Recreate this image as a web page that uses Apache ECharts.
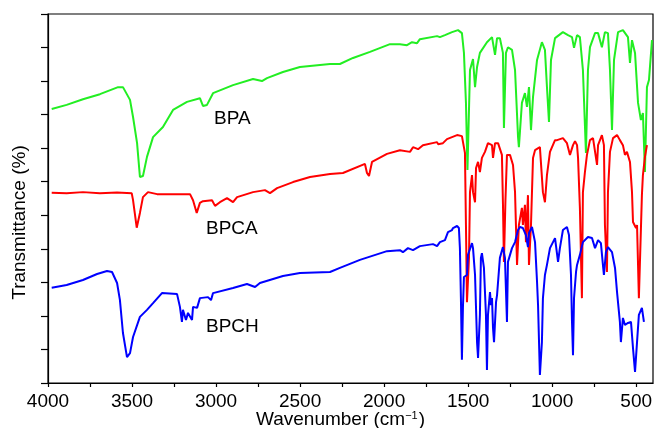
<!DOCTYPE html>
<html>
<head>
<meta charset="utf-8">
<script src="https://cdn.jsdelivr.net/npm/echarts@6/dist/echarts.min.js"></script>
<style>html,body{margin:0;padding:0;background:#fff}#c{width:655px;height:428px}</style>
</head>
<body>
<div id="c"></div>
<script>
// Wavenumber (cm-1) and transmittance (arbitrary offset %, axis 0-110)
var bpaW = [3978,3889,3792,3691,3583,3554,3512,3494,3470,3453,3435,3411,3375,3316,3256,3173,3096,3078,3054,3018,2899,2780,2727,2697,2602,2501,2322,2263,2185,2084,1965,1906,1864,1834,1804,1787,1685,1668,1638,1596,1560,1537,1525,1513,1504,1489,1471,1459,1447,1430,1388,1358,1340,1328,1311,1293,1287,1275,1263,1239,1221,1203,1198,1180,1162,1150,1138,1126,1114,1090,1061,1043,1031,1019,1007,983,936,906,882,870,852,835,817,799,787,775,745,727,704,686,668,656,644,632,608,579,549,537,525,507,489,472,460,448,436,424,406];
var bpaT = [81.7,82.9,84.6,86.1,88.2,88.2,84.4,79.3,71.5,61.4,61.7,67.4,73.3,76.3,81.4,83.8,84.9,82.6,82.9,86.4,88.8,90.6,90.0,90.9,92.7,94.2,95.1,95.1,96.9,98.7,101.0,101.0,100.7,101.6,101.3,102.5,103.4,103.1,103.7,104.6,105.2,104.3,98.4,83.5,63.5,93.3,96.6,88.2,94.2,98.4,101.6,103.1,97.8,102.8,102.8,98.4,76.0,98.4,100.1,99.3,93.3,73.3,70.3,83.5,86.4,82.3,88.2,75.4,85.2,96.3,101.6,99.3,88.2,77.8,96.3,102.8,104.6,103.7,103.1,99.9,103.7,103.1,93.3,68.6,93.3,100.1,104.3,104.3,100.1,104.6,104.3,93.3,75.4,96.3,104.6,105.2,103.1,95.4,102.2,98.4,83.5,78.4,80.5,62.9,88.2,90.3,102.2];

var bpcaW = [3978,3889,3792,3691,3589,3502,3494,3472,3453,3435,3405,3351,3155,3137,3115,3096,3078,3024,3006,2977,2935,2899,2875,2780,2709,2679,2637,2542,2441,2322,2245,2114,2102,2090,2072,1983,1906,1846,1828,1798,1769,1685,1679,1650,1626,1566,1537,1519,1513,1507,1495,1489,1477,1471,1459,1453,1441,1430,1418,1400,1382,1358,1352,1340,1322,1299,1293,1287,1278,1269,1251,1233,1221,1209,1198,1180,1174,1162,1156,1144,1138,1126,1114,1102,1073,1055,1043,1031,1013,983,971,936,912,894,876,864,852,846,835,823,817,805,793,775,757,733,727,704,692,686,674,668,656,638,614,597,579,567,555,537,525,519,501,495,484,466,460,448,436];
var bpcaT = [56.7,56.6,56.9,56.6,56.8,56.6,54.5,46.3,50.7,55.4,56.9,56.3,56.3,54.5,50.7,53.7,54.2,54.5,52.8,53.9,55.1,53.9,55.4,56.9,57.5,56.6,58.1,59.9,61.4,62.3,62.6,65.3,62.6,61.7,65.9,68.3,69.4,68.9,70.3,69.7,70.9,71.8,71.2,71.5,72.7,73.9,73.6,68.6,47.1,24.1,37.3,56.9,62.0,56.9,53.9,64.1,65.9,62.9,67.1,68.9,71.5,70.9,67.1,71.5,71.5,68.0,53.9,36.1,54.5,68.0,68.0,65.0,56.9,35.2,47.1,52.2,47.1,53.1,42.0,56.0,35.2,47.1,67.1,69.4,70.3,56.9,53.9,62.0,68.9,72.4,72.4,73.0,71.5,68.0,70.9,72.1,70.9,67.1,52.2,25.3,56.9,62.9,68.0,72.4,73.0,65.0,70.9,73.9,70.9,47.1,33.1,56.9,68.9,73.0,73.9,72.4,70.9,68.0,68.9,65.9,56.9,48.0,46.2,47.1,25.3,56.0,62.0,67.4,70.9];

var bpchW = [3978,3889,3792,3708,3649,3619,3589,3572,3554,3530,3512,3494,3453,3411,3375,3322,3232,3215,3203,3197,3179,3167,3143,3137,3113,3096,3048,3030,3018,2899,2816,2768,2739,2602,2501,2322,2263,2144,1983,1906,1888,1858,1828,1787,1709,1685,1668,1638,1620,1596,1590,1566,1555,1549,1543,1537,1531,1525,1507,1501,1477,1471,1459,1447,1441,1430,1424,1418,1406,1394,1388,1382,1370,1364,1358,1352,1346,1334,1328,1311,1293,1281,1269,1263,1239,1221,1203,1192,1174,1156,1144,1138,1120,1102,1090,1084,1073,1061,1055,1043,1031,1013,983,965,954,936,912,900,888,882,876,870,858,852,835,817,787,763,745,727,710,698,692,680,668,644,626,614,597,591,579,567,549,531,519,507,495,484,466,454];
var bpchT = [28.4,29.2,30.7,32.5,33.4,33.1,29.8,24.7,14.9,7.7,8.9,13.7,19.7,21.8,23.8,26.8,26.5,22.7,18.2,21.8,18.8,20.9,18.8,22.7,22.4,25.3,25.6,24.7,26.8,28.3,29.5,28.6,29.8,31.9,32.8,33.1,34.3,36.7,39.3,39.6,39.0,40.2,39.6,40.8,41.4,40.8,42.0,42.6,45.0,45.6,46.2,46.8,46.2,40.2,25.3,6.9,22.4,31.6,32.2,38.2,41.7,40.2,32.2,12.2,7.5,20.3,37.3,38.7,34.3,20.3,3.9,20.3,27.1,23.2,25.3,16.4,12.2,24.1,26.2,37.3,40.5,37.3,18.2,36.1,40.2,42.0,45.6,46.5,46.2,44.1,40.5,44.7,46.5,42.0,30.1,23.2,2.4,12.2,25.3,32.2,35.2,40.2,43.2,36.1,40.2,45.6,46.5,44.1,32.2,18.2,8.3,25.3,33.1,35.2,38.2,42.0,43.5,43.2,40.2,42.6,41.7,35.2,32.2,39.0,40.5,39.0,34.3,27.1,18.2,12.2,19.4,17.3,17.9,18.2,10.4,3.3,12.2,20.3,22.4,18.2];

var tickValues = [500,750,1000,1250,1500,1750,2000,2250,2500,2750,3000,3250,3500,3750,4000];
var labelValues = [500,1000,1500,2000,2500,3000,3500,4000];
var seriesNames = ['BPA','BPCA','BPCH'];

function zip(a,b){return a.map(function(v,i){return [v,b[i]];});}

var FONT = '"Liberation Sans", Arial, Helvetica, sans-serif';
var chart = echarts.init(document.getElementById('c'), null, {renderer:'canvas'});
chart.setOption({
  animation:false,
  backgroundColor:'#fff',
  grid:{left:48, right:2, top:14, bottom:45, outerBoundsMode:'none', containLabel:false,
        show:true, borderColor:'#000', borderWidth:1.2, backgroundColor:'transparent'},
  xAxis:{
    type:'value', inverse:true, min:400, max:4000,
    name:'Wavenumber (cm{sup|\u22121})',
    nameLocation:'middle', nameGap:27, nameMoveOverlap:false,
    nameTextStyle:{fontFamily:FONT, fontSize:19, lineHeight:20, color:'#000', padding:[0,20,0,0],
      rich:{sup:{fontFamily:FONT, fontSize:11, lineHeight:20, color:'#000', verticalAlign:'top', padding:[0,1,6,0]}}},
    axisLine:{show:true, onZero:false, lineStyle:{color:'#000', width:1.2}},
    axisTick:{show:true, inside:false, length:4, customValues:tickValues, lineStyle:{color:'#000', width:1.2}},
    axisLabel:{show:true, customValues:labelValues, margin:9, fontFamily:FONT, fontSize:19, color:'#000',
      formatter:function(v){return String(v);}},
    splitLine:{show:false}
  },
  yAxis:{
    type:'value', min:0, max:110, interval:10,
    name:'Transmittance (%)', nameLocation:'middle', nameGap:19, nameMoveOverlap:false,
    nameTextStyle:{fontFamily:FONT, fontSize:19, color:'#000', padding:[0,48,0,0]},
    axisLine:{show:true, lineStyle:{color:'#000', width:1.2}},
    axisTick:{show:true, inside:false, length:7, lineStyle:{color:'#000', width:1.2}},
    axisLabel:{show:false},
    splitLine:{show:false}
  },
  series:[
    {name:seriesNames[0], type:'line', data:zip(bpaW,bpaT), showSymbol:false, symbol:'none', lineStyle:{color:'#22ee22', width:2}, z:2},
    {name:seriesNames[1], type:'line', data:zip(bpcaW,bpcaT), showSymbol:false, symbol:'none', lineStyle:{color:'#ff0000', width:2}, z:3},
    {name:seriesNames[2], type:'line', data:zip(bpchW,bpchT), showSymbol:false, symbol:'none', lineStyle:{color:'#0000ff', width:2}, z:4}
  ],
  graphic:[
    {type:'text', left:214, top:109, style:{text:seriesNames[0], font:'19px '+FONT, fill:'#000'}},
    {type:'text', left:206, top:219, style:{text:seriesNames[1], font:'19px '+FONT, fill:'#000'}},
    {type:'text', left:206, top:317, style:{text:seriesNames[2], font:'19px '+FONT, fill:'#000'}}
  ]
});
</script>
</body>
</html>
